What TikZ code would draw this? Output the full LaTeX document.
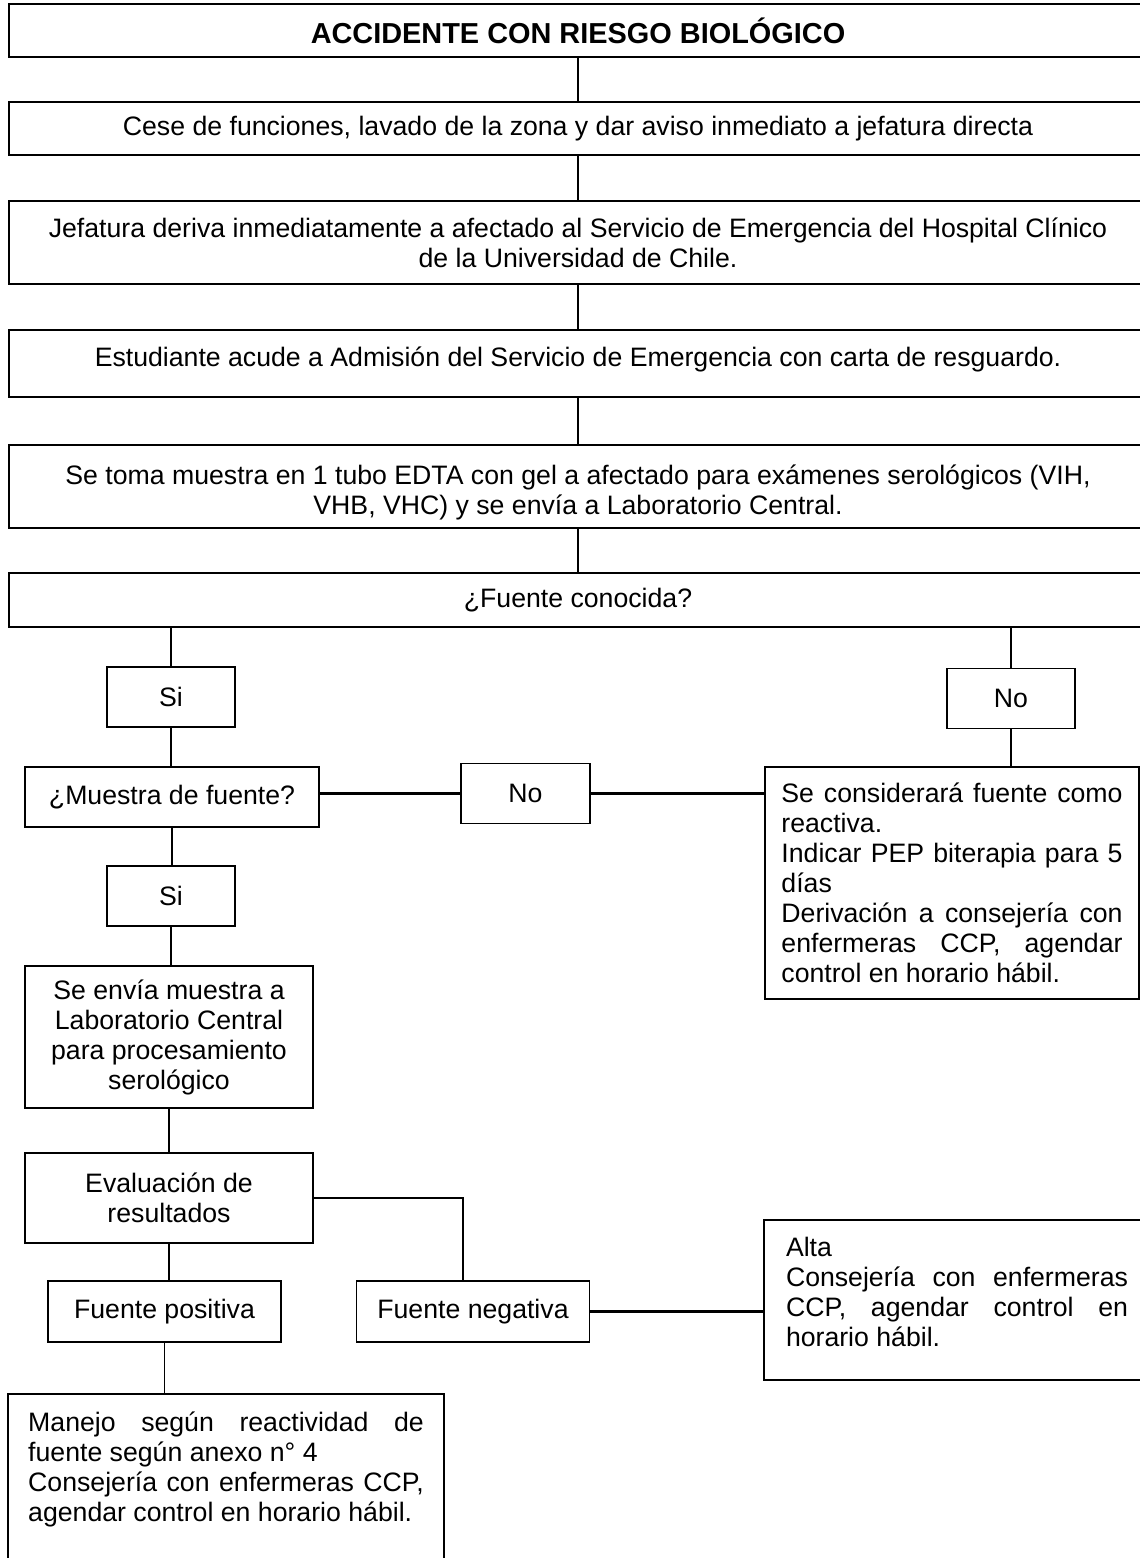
\documentclass[tikz,border=0pt]{standalone}
\usepackage{fontspec}
\setmainfont{Liberation Sans}
% text of the wide boxes, centred on the axis while the box runs past the right edge
\newcommand{\wtext}[2][0pt]{\parbox{512.1pt}{\centering #2\par\vspace*{#1}}\hspace*{19.35pt}}
\begin{document}
\begin{tikzpicture}[
    x=0.45pt, y=-0.45pt,
    box/.style={rectangle, draw, line width=0.6pt, inner sep=0pt, font=\fontsize{12}{13.5}\selectfont},
    wide/.style={box, minimum width=531.45pt},
    small/.style={box, minimum width=57.6pt, minimum height=27pt},
    link/.style={line width=0.5pt},
    thicklink/.style={line width=1.1pt}
]
    \path[use as bounding box, clip] (0,0) rectangle (1140,1558);
    \coordinate (eje) at (578,0);

    \node[wide, minimum height=23.85pt, font=\fontsize{13}{15}\selectfont\bfseries] (titulo) at (599.5,30.5) {\wtext{ACCIDENTE CON RIESGO BIOLÓGICO}};
    \node[wide, minimum height=23.85pt] (cese) at (599.5,128.5) {\wtext{Cese de funciones, lavado de la zona y dar aviso inmediato a jefatura directa}};
    \node[wide, minimum height=37.35pt] (deriva) at (599.5,242.5) {\wtext{Jefatura deriva inmediatamente a afectado al Servicio de Emergencia del Hospital Clínico\\de la Universidad de Chile.}};
    \node[wide, minimum height=30.15pt] (admision) at (599.5,363.5) {\wtext[3.6pt]{Estudiante acude a Admisión del Servicio de Emergencia con carta de resguardo.}};
    \node[wide, minimum height=37.35pt] (toma) at (599.5,486.5) {\wtext[-5.7pt]{Se toma muestra en 1 tubo EDTA con gel a afectado para exámenes serológicos (VIH,\\VHB, VHC) y se envía a Laboratorio Central.}};
    \node[wide, minimum height=24.3pt] (fuente) at (599.5,600) {\wtext{¿Fuente conocida?}};

    \node[small] (si1) at (171,697) {Si};
    \node[small] (no1) at (1011,698.5) {No};
    \node[box, minimum width=132.3pt, minimum height=27pt] (pregunta) at (172,797) {¿Muestra de fuente?};
    \node[small, minimum width=58pt] (no2) at (525.5,793.5) {No};
    \node[box, minimum width=168.3pt, minimum height=104.4pt, text width=153.5pt, align=justify] (reactiva) at (952,883)
        {Se considerará fuente como\linebreak reactiva.\\Indicar PEP biterapia para 5\linebreak días\\Derivación a consejería con\linebreak enfermeras CCP, agendar\linebreak control en horario hábil.};
    \node[small] (si2) at (171,896) {Si};
    \node[box, minimum width=129.6pt, minimum height=63.9pt, align=center] (envio) at (169,1037) {Se envía muestra a\\Laboratorio Central\\para procesamiento\\serológico};
    \node[box, minimum width=129.6pt, minimum height=40.5pt, align=center] (evaluacion) at (169,1198) {Evaluación de\\resultados};
    \node[box, minimum width=104.85pt, minimum height=27.45pt] (positiva) at (164.5,1311.5) {Fuente positiva};
    \node[box, minimum width=104.85pt, minimum height=27.45pt] (negativa) at (473,1311.5) {Fuente negativa};
    \node[box, minimum height=72pt] (alta) at (977,1300)
        {\hspace*{9.9pt}\parbox{153.9pt}{Alta\\Consejería con enfermeras\linebreak CCP, agendar control en\linebreak horario hábil.\par\vspace*{7.2pt}}\hspace*{27.9pt}};
    \node[box, minimum width=196.2pt, minimum height=79.2pt, text width=178pt, align=justify] (manejo) at (226,1482)
        {Manejo según reactividad de\linebreak fuente según anexo n° 4\\Consejería con enfermeras CCP,\linebreak agendar control en horario hábil.\\~};

    \draw[link] (titulo.south -| eje) -- (cese.north -| eje);
    \draw[link] (cese.south -| eje) -- (deriva.north -| eje);
    \draw[link] (deriva.south -| eje) -- (admision.north -| eje);
    \draw[link] (admision.south -| eje) -- (toma.north -| eje);
    \draw[link] (toma.south -| eje) -- (fuente.north -| eje);
    \draw[link] (si1) -- (si1 |- fuente.south);
    \draw[link] (no1) -- (no1 |- fuente.south);
    \draw[link] (si1.south) -- (si1.south |- pregunta.north);
    \draw[thicklink] (no2) -- (no2 -| pregunta.east);
    \draw[thicklink] (no2) -- (no2 -| reactiva.west);
    \draw[link] (no1) -- (no1 |- reactiva.north);
    \draw[link] (pregunta.south) -- (pregunta.south |- si2.north);
    \draw[link] (si2) -- (si2 |- envio.north);
    \draw[link] (envio) -- (evaluacion);
    \draw[line width=0.9pt] (evaluacion.east) -| ([xshift=-4.5pt]negativa.north);
    \draw[link] (evaluacion.south) -- (evaluacion.south |- positiva.north);
    \draw[thicklink] (negativa) -- (negativa -| alta.west);
    \draw[link] (positiva.south) -- (positiva.south |- manejo.north);
\end{tikzpicture}
\end{document}
